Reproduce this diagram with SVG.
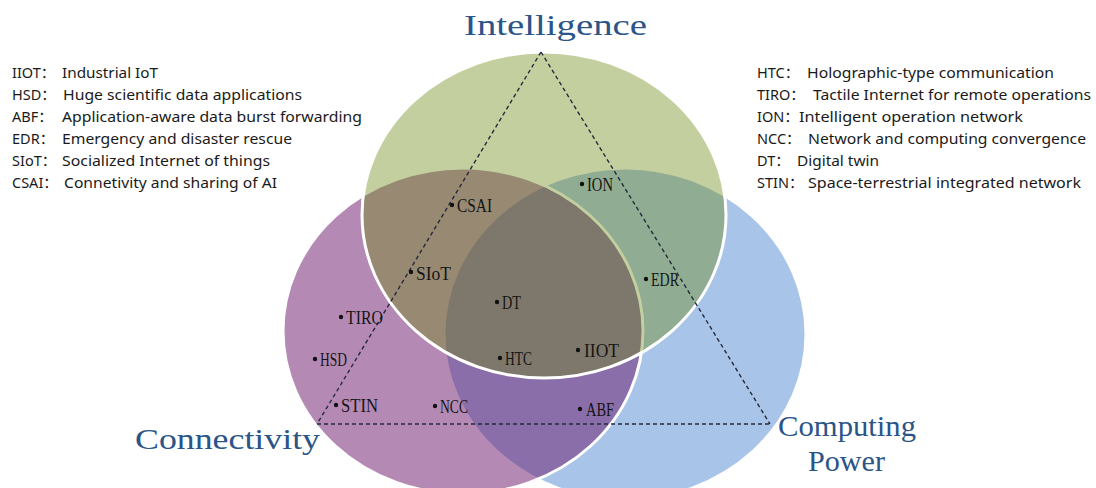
<svg xmlns="http://www.w3.org/2000/svg" width="1096" height="488" viewBox="0 0 1096 488">
  <style>
    .set { stroke: #ffffff; stroke-width: 3; }
    .title { font-family: "Liberation Serif", "DejaVu Serif", serif; font-size: 30px; fill: #2b5488; }
    .pt { fill: #111111; }
    .lbl { font-family: "Liberation Serif", "DejaVu Serif", serif; font-size: 18px; fill: #151515; }
    .key { font-family: "Noto Sans", "Liberation Sans", "Noto Sans CJK SC", sans-serif; font-size: 14.5px; fill: #1a1a1a; }
    .edge { fill: none; stroke: #262b3b; stroke-width: 1.4; stroke-dasharray: 4 3; }
  </style>

  <rect width="1096" height="488" fill="#ffffff"/>

  <!-- the three overlapping sets: blue below, purple and green translucent above -->
  <g id="computing-power">
    <ellipse class="set" cx="625" cy="334" rx="181" ry="166" fill="#a8c5e9"/>
  </g>
  <g id="connectivity">
    <ellipse class="set" cx="463" cy="331" rx="180" ry="163" fill="#6f1e71" fill-opacity="0.52"/>
  </g>
  <g id="intelligence">
    <ellipse class="set" cx="544" cy="215" rx="182" ry="163" fill="#6b870f" fill-opacity="0.4"/>
  </g>

  <!-- dashed triangle joining the three corner titles -->
  <g id="connectors">
    <line class="edge" x1="541" y1="52" x2="317" y2="424"/>
    <line class="edge" x1="541" y1="52" x2="770" y2="424"/>
    <line class="edge" x1="317" y1="424" x2="770" y2="424"/>
  </g>

  <!-- corner titles -->
  <text class="title" x="464" y="35" textLength="183" lengthAdjust="spacingAndGlyphs">Intelligence</text>
  <text class="title" x="135" y="449" textLength="185" lengthAdjust="spacingAndGlyphs">Connectivity</text>
  <text class="title" x="778" y="436" textLength="138" lengthAdjust="spacingAndGlyphs">Computing</text>
  <text class="title" x="808" y="471" textLength="77" lengthAdjust="spacingAndGlyphs">Power</text>

  <!-- application points -->
  <g id="csai"><circle class="pt" cx="452" cy="205" r="2.2"/><text class="lbl" x="457" y="212" textLength="35" lengthAdjust="spacingAndGlyphs">CSAI</text></g>
  <g id="ion"><circle class="pt" cx="582" cy="184" r="2.2"/><text class="lbl" x="587" y="191" textLength="26" lengthAdjust="spacingAndGlyphs">ION</text></g>
  <g id="siot"><circle class="pt" cx="411" cy="272" r="2.2"/><text class="lbl" x="416" y="280" textLength="35" lengthAdjust="spacingAndGlyphs">SIoT</text></g>
  <g id="edr"><circle class="pt" cx="646" cy="279" r="2.2"/><text class="lbl" x="651" y="286" textLength="28" lengthAdjust="spacingAndGlyphs">EDR</text></g>
  <g id="dt"><circle class="pt" cx="497" cy="302" r="2.2"/><text class="lbl" x="502" y="309" textLength="19" lengthAdjust="spacingAndGlyphs">DT</text></g>
  <g id="tiro"><circle class="pt" cx="341" cy="317" r="2.2"/><text class="lbl" x="346" y="324" textLength="37" lengthAdjust="spacingAndGlyphs">TIRO</text></g>
  <g id="hsd"><circle class="pt" cx="315" cy="359" r="2.2"/><text class="lbl" x="320" y="366" textLength="27" lengthAdjust="spacingAndGlyphs">HSD</text></g>
  <g id="htc"><circle class="pt" cx="500" cy="358" r="2.2"/><text class="lbl" x="505" y="365" textLength="27" lengthAdjust="spacingAndGlyphs">HTC</text></g>
  <g id="iiot"><circle class="pt" cx="578" cy="350" r="2.2"/><text class="lbl" x="584" y="357" textLength="35" lengthAdjust="spacingAndGlyphs">IIOT</text></g>
  <g id="stin"><circle class="pt" cx="336" cy="405" r="2.2"/><text class="lbl" x="341" y="412" textLength="37" lengthAdjust="spacingAndGlyphs">STIN</text></g>
  <g id="ncc"><circle class="pt" cx="435" cy="406" r="2.2"/><text class="lbl" x="440" y="413" textLength="28" lengthAdjust="spacingAndGlyphs">NCC</text></g>
  <g id="abf"><circle class="pt" cx="580" cy="409" r="2.2"/><text class="lbl" x="586" y="416" textLength="28" lengthAdjust="spacingAndGlyphs">ABF</text></g>

  <!-- abbreviation key, left column -->
  <g id="key-left">
    <text class="key" x="12" y="78">IIOT：</text>
    <text class="key" x="62" y="78" textLength="96" lengthAdjust="spacingAndGlyphs">Industrial IoT</text>
    <text class="key" x="12" y="100">HSD：</text>
    <text class="key" x="63" y="100" textLength="239" lengthAdjust="spacingAndGlyphs">Huge scientific data applications</text>
    <text class="key" x="12" y="122">ABF：</text>
    <text class="key" x="62" y="122" textLength="300" lengthAdjust="spacingAndGlyphs">Application-aware data burst forwarding</text>
    <text class="key" x="12" y="144">EDR：</text>
    <text class="key" x="62" y="144" textLength="230" lengthAdjust="spacingAndGlyphs">Emergency and disaster rescue</text>
    <text class="key" x="12" y="166">SIoT：</text>
    <text class="key" x="62" y="166" textLength="208" lengthAdjust="spacingAndGlyphs">Socialized Internet of things</text>
    <text class="key" x="12" y="188">CSAI：</text>
    <text class="key" x="64" y="188" textLength="213" lengthAdjust="spacingAndGlyphs">Connetivity and sharing of AI</text>
  </g>

  <!-- abbreviation key, right column -->
  <g id="key-right">
    <text class="key" x="757" y="78">HTC：</text>
    <text class="key" x="807" y="78" textLength="247" lengthAdjust="spacingAndGlyphs">Holographic-type communication</text>
    <text class="key" x="757" y="100">TIRO：</text>
    <text class="key" x="813" y="100" textLength="278" lengthAdjust="spacingAndGlyphs">Tactile Internet for remote operations</text>
    <text class="key" x="757" y="122">ION：</text>
    <text class="key" x="799" y="122" textLength="224" lengthAdjust="spacingAndGlyphs">Intelligent operation network</text>
    <text class="key" x="757" y="144">NCC：</text>
    <text class="key" x="808" y="144" textLength="278" lengthAdjust="spacingAndGlyphs">Network and computing convergence</text>
    <text class="key" x="757" y="166">DT：</text>
    <text class="key" x="797" y="166" textLength="82" lengthAdjust="spacingAndGlyphs">Digital twin</text>
    <text class="key" x="757" y="188">STIN：</text>
    <text class="key" x="808" y="188" textLength="273" lengthAdjust="spacingAndGlyphs">Space-terrestrial integrated network</text>
  </g>
</svg>
